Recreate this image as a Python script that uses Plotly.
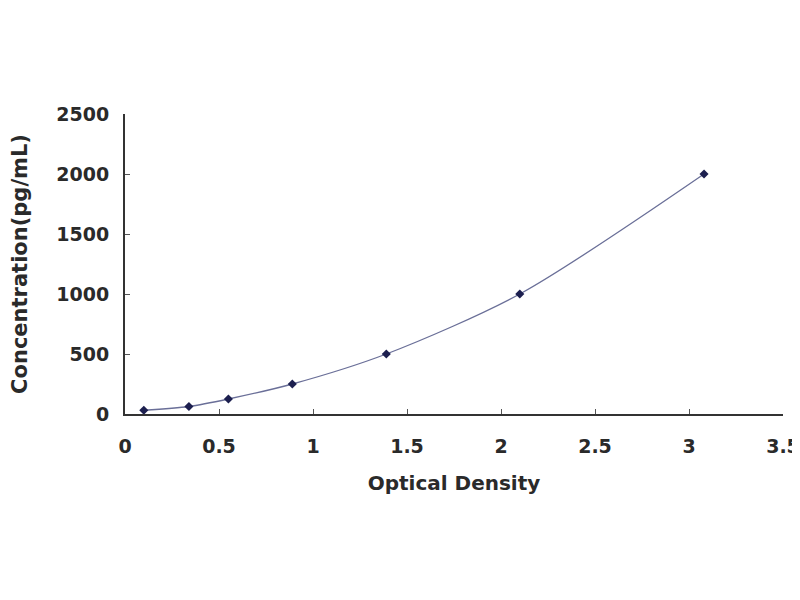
import plotly.graph_objects as go

od = [0.10, 0.34, 0.55, 0.89, 1.39, 2.10, 3.08]
conc = [31.25, 62.5, 125, 250, 500, 1000, 2000]
x_ticks = [0, 0.5, 1, 1.5, 2, 2.5, 3, 3.5]
y_ticks = [0, 500, 1000, 1500, 2000, 2500]

FONT = "DejaVu Sans, Liberation Sans, Arial, sans-serif"
TXT = "#2a2a2a"

fig = go.Figure()
fig.add_trace(go.Scatter(
    x=od, y=conc, mode="lines+markers",
    line=dict(color="#6a6f98", width=1.3, shape="spline", smoothing=0.8),
    marker=dict(symbol="diamond", size=7, color="#1c1f4f"),
    showlegend=False,
))

fig.update_layout(
    width=800, height=600,
    margin=dict(l=117, r=25, t=106, b=194),
    paper_bgcolor="white", plot_bgcolor="white",
    font=dict(family=FONT, size=18, color=TXT),
)
fig.update_xaxes(
    range=[0, 3.5], tickvals=x_ticks, showgrid=False, zeroline=False,
    showline=True, linecolor="#333333", linewidth=2,
    ticks="inside", ticklen=5, tickcolor="#555555",
    ticklabelstandoff=14, automargin=False,
    tickfont=dict(family=FONT, size=19, color=TXT, weight="bold"),
    title=dict(text="<b>Optical Density</b>", standoff=20,
               font=dict(family=FONT, size=20, color=TXT)),
)
fig.update_yaxes(
    range=[0, 2500], tickvals=y_ticks, showgrid=False, zeroline=False,
    showline=True, linecolor="#333333", linewidth=2,
    ticks="inside", ticklen=5, tickcolor="#555555",
    ticklabelstandoff=10, automargin=False,
    tickfont=dict(family=FONT, size=19, color=TXT, weight="bold"),
    title=dict(text="<b>Concentration(pg/mL)</b>", standoff=30,
               font=dict(family=FONT, size=21, color=TXT)),
)
fig.write_html("out.html")
